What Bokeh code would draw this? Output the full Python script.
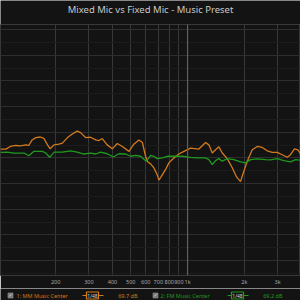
from bokeh.plotting import figure
from bokeh.layouts import column
from bokeh.models import FixedTicker, Span, Range1d
from bokeh.core.properties import value
from bokeh.embed import file_html
from bokeh.resources import INLINE

# ---- data ----
mm_freq = [102, 109, 115, 123, 130, 139, 144, 150, 157, 166, 173, 181, 187, 196, 208, 217, 231, 245, 260, 271,
           288, 306, 326, 339, 353, 375, 399, 424, 451, 489, 519, 552, 576, 599, 616, 637, 663, 691, 705, 719,
           765, 796, 846, 899, 956, 1037, 1148, 1246, 1297, 1352, 1407, 1465, 1527, 1623, 1725, 1818, 1909, 1949,
           2071, 2202, 2340, 2487, 2643, 2809, 2986, 3174, 3374, 3512, 3687, 3839, 3967]
mm_db = [71.73, 71.73, 72.24, 72.43, 72.36, 72.55, 72.43, 73.51, 73.97, 74.08, 73.83, 72.55, 71.78, 72.55, 72.68,
         72.88, 73.97, 74.66, 75.23, 74.93, 73.97, 74.03, 73.51, 73.39, 73.78, 72.55, 71.78, 72.82, 72.24, 71.28,
         72.68, 73.51, 73.01, 70.33, 69.23, 68.85, 68.08, 66.68, 65.69, 66.17, 67.76, 69.04, 70.0, 70.77, 71.28,
         71.92, 71.73, 73.01, 72.55, 70.96, 71.59, 72.17, 70.96, 69.87, 68.08, 66.30, 65.40, 66.49, 69.37, 71.59,
         72.24, 72.05, 71.40, 71.09, 71.09, 70.63, 70.13, 70.63, 71.78, 71.59, 70.82]

fm_freq = [102, 111, 120, 136, 144, 153, 170, 177, 186, 196, 217, 240, 260, 282, 306, 326, 346, 375, 404, 433,
           469, 499, 530, 564, 604, 624, 637, 663, 691, 735, 781, 864, 937, 1037, 1126, 1246, 1297, 1352, 1407,
           1465, 1527, 1623, 1759, 1909, 2029, 2157, 2340, 2589, 2752, 2986, 3236, 3512, 3733, 3967]
fm_db = [71.09, 71.15, 70.96, 70.96, 70.44, 71.28, 71.28, 70.96, 70.13, 71.15, 71.15, 71.40, 71.15, 70.77, 70.96,
         70.77, 71.15, 70.82, 70.19, 70.82, 70.77, 70.33, 70.52, 70.33, 69.37, 70.0, 70.52, 70.33, 69.87, 70.0,
         70.33, 70.33, 70.33, 70.13, 70.0, 70.0, 69.67, 68.72, 69.48, 69.87, 69.37, 69.87, 69.67, 69.23, 69.04,
         69.67, 69.81, 69.67, 69.62, 69.87, 69.48, 69.23, 69.67, 69.56]

x_ticks = [100, 200, 300, 400, 500, 600, 700, 800, 900, 1000, 2000, 3000, 4000]
x_tick_labels = ["100", "200", "300", "400", "500", "600", "700", "800", "900", "1k", "2k", "3k", "4k"]
y_ticks = [50, 55, 60, 65, 70, 75, 80, 85, 90, 95]
y_minor = [47.5, 52.5, 57.5, 62.5, 67.5, 72.5, 77.5, 82.5, 87.5, 92.5]

title_text = "Mixed Mic vs Fixed Mic - Music Preset"
names = ["1: MM Music Center", "2: FM Music Center"]
smoothing = ["1/48", "1/48"]
levels = ["69.7 dB", "69.2 dB"]

ORANGE = "#d27a1c"
GREEN = "#1f9a1f"
BG = "#131313"
FONT = "Noto Sans"


def bare(h, xr, yr):
    f = figure(width=300, height=h, output_backend="svg", toolbar_location=None,
               x_axis_location=None, y_axis_location=None, x_range=xr, y_range=yr,
               min_border=0, min_border_left=0, min_border_right=0, min_border_top=0, min_border_bottom=0)
    f.background_fill_color = BG
    f.border_fill_color = BG
    f.outline_line_color = None
    f.grid.grid_line_color = None
    return f


# ---- title strip ----
t = bare(24, Range1d(0, 300), Range1d(0, 24))
t.text(x=[150], y=[15], text=[title_text], text_color="#c8c8c8", text_font=value(FONT),
       text_font_size="9.5px", text_align="center", text_baseline="middle")

# ---- main plot ----
p = figure(width=300, height=264, x_axis_type="log", output_backend="svg", toolbar_location=None,
           y_axis_location=None, x_range=Range1d(102, 3967), y_range=Range1d(47.1, 96.0),
           min_border_left=0, min_border_right=0, min_border_top=0, min_border_bottom=9)
p.background_fill_color = BG
p.border_fill_color = BG
p.outline_line_color = "#383838"

ax = p.xaxis[0]
ax.ticker = FixedTicker(ticks=x_ticks)
ax.major_label_overrides = {t_: l for t_, l in zip(x_ticks, x_tick_labels)}
ax.axis_line_color = None
ax.major_tick_line_color = None
ax.minor_tick_line_color = None
ax.major_tick_out = 0
ax.major_tick_in = 0
ax.major_label_standoff = 2
ax.major_label_text_font_size = "5.5px"
ax.major_label_text_color = "#a8a8a8"
ax.major_label_text_font = FONT

p.xgrid.ticker = FixedTicker(ticks=x_ticks)
p.xgrid.grid_line_color = "#383838"
p.ygrid.ticker = FixedTicker(ticks=y_ticks, minor_ticks=y_minor)
p.ygrid.grid_line_color = "#2e2e2e"
p.ygrid.minor_grid_line_color = "#1c1c1c"

p.add_layout(Span(location=1000, dimension="height", line_color="#606060", line_width=1.2))

p.line(mm_freq, mm_db, line_color=ORANGE, line_width=1.3)
p.line(fm_freq, fm_db, line_color=GREEN, line_width=1.3)

# ---- legend strip ----
lg = bare(12, Range1d(0, 300), Range1d(0, 12))
box_x = [10, 155]
name_x = [16, 160]
sm_x = [92, 237]
lv_x = [137, 282]
cols = [ORANGE, GREEN]
yy = [5, 5]
lg.rect(x=box_x, y=yy, width=5, height=5, fill_color="#707070", line_color="#9a9a9a", line_width=0.6)
lg.text(x=box_x, y=[5.2, 5.2], text=["\u2713", "\u2713"], text_color="#f0f0f0", text_font=value("DejaVu Sans"),
        text_font_size="5px", text_align="center", text_baseline="middle")
lg.text(x=name_x, y=yy, text=names, text_color=cols, text_font=value(FONT), text_font_size="5.5px",
        text_align="left", text_baseline="middle")
lg.segment(x0=[s - 10 for s in sm_x], y0=yy, x1=[s + 11 for s in sm_x], y1=yy, line_color=cols, line_width=1.2)
lg.rect(x=sm_x, y=yy, width=12, height=7, fill_color=BG, line_color=cols, line_width=1.2)
lg.text(x=sm_x, y=yy, text=smoothing, text_color="#d8d8d8", text_font=value(FONT), text_font_size="5px",
        text_align="center", text_baseline="middle")
lg.text(x=lv_x, y=yy, text=levels, text_color=cols, text_font=value(FONT), text_font_size="5.5px",
        text_align="right", text_baseline="middle")

layout = column(t, p, lg, spacing=0)
open("out.html", "w").write(file_html(layout, INLINE))
